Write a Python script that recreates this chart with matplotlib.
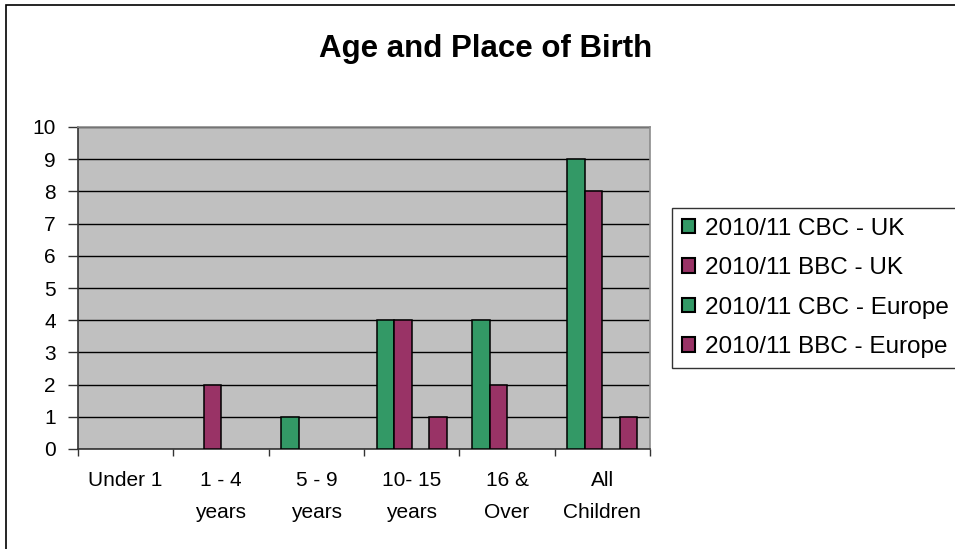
import numpy as np
import matplotlib
matplotlib.use('Agg')
import matplotlib.pyplot as plt
from matplotlib.patches import Rectangle


categories = ['Under 1', '1 - 4\nyears', '5 - 9\nyears', '10- 15\nyears', '16 &\nOver', 'All\nChildren']
series_names = ['2010/11 CBC - UK', '2010/11 BBC - UK', '2010/11 CBC - Europe', '2010/11 BBC - Europe']
cbc_uk = [0, 0, 1, 4, 4, 9]
bbc_uk = [0, 2, 0, 4, 2, 8]
cbc_europe = [0, 0, 0, 0, 0, 0]
bbc_europe = [0, 0, 0, 1, 0, 1]
y_ticks = list(range(0, 11))

GREEN = '#339966'
PURPLE = '#993366'


def main():
    plt.rcParams['font.family'] = ['Liberation Sans', 'DejaVu Sans']

    fig = plt.figure(figsize=(9.55, 5.49), dpi=100)
    ax = fig.add_axes([78/955, 1 - 449/549, (650 - 78)/955, (449 - 127)/549])
    ax.set_facecolor('#c0c0c0')

    series = [cbc_uk, bbc_uk, cbc_europe, bbc_europe]
    colors = [GREEN, PURPLE, GREEN, PURPLE]
    x = np.arange(len(categories))
    width = 0.183
    offsets = [-1.5, -0.5, 0.5, 1.5]
    for vals, name, col, off in zip(series, series_names, colors, offsets):
        vals = np.array(vals, dtype=float)
        keep = vals > 0  # zero bars are not drawn at all in the source
        ax.bar((x + off*width)[keep], vals[keep], width, color=col, edgecolor='black',
               linewidth=1.1, zorder=3)
        # legend proxy so empty series still show up
        ax.bar([np.nan], [np.nan], width, color=col, edgecolor='black', label=name)

    ax.set_xlim(-0.5, len(categories) - 0.5)
    ax.set_ylim(0, 10)
    ax.set_yticks(y_ticks)
    ax.yaxis.grid(True, color='black', linewidth=1.0, zorder=1)
    ax.set_axisbelow(True)

    ax.set_xticks(x)
    ax.set_xticklabels(categories, fontsize=15, linespacing=1.85, va='top')
    ax.set_xticks(np.arange(-0.5, len(categories)), minor=True)
    ax.tick_params(axis='x', which='major', length=0, pad=16)
    ax.tick_params(axis='x', which='minor', length=5, width=1, color='#333333', direction='out')
    ax.tick_params(axis='y', length=7, width=1, color='#333333', direction='out', pad=9, labelsize=15)

    for side in ['left', 'bottom']:
        ax.spines[side].set_color('#333333')
        ax.spines[side].set_linewidth(1.2)
    for side in ['top', 'right']:
        ax.spines[side].set_color('#8c8c8c')
        ax.spines[side].set_linewidth(1.2)

    fig.text(486/955, 1 - 57/549, 'Age and Place of Birth', ha='center', va='baseline',
             fontsize=22.5, fontweight='bold')

    leg = fig.legend(loc='upper left', bbox_to_anchor=(672/955, 1 - 208/549),
                     fontsize=17.5, frameon=True, fancybox=False, shadow=False,
                     handlelength=0.55, handleheight=0.55, handletextpad=0.4,
                     borderpad=0.4, labelspacing=0.72, borderaxespad=0)
    leg.get_frame().set_edgecolor('black')
    leg.get_frame().set_linewidth(1.0)
    for h in leg.legend_handles:
        h.set_linewidth(1.5)

    # outer chart border, cut off on the right and bottom as in the source
    fig.patches.append(Rectangle((6/955, -0.5), 2, 1 - 5/549 + 0.5, transform=fig.transFigure,
                                 fill=False, edgecolor='black', linewidth=1.2))

    fig.savefig('out.png', dpi=100)


if __name__ == "__main__":
    main()
